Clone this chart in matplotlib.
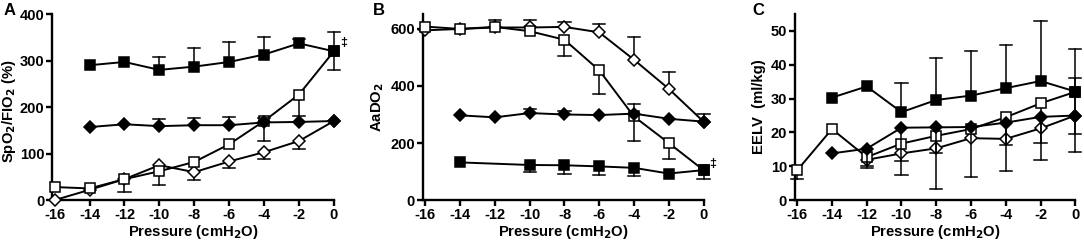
import numpy as np
import matplotlib
matplotlib.use("Agg")
import matplotlib.pyplot as plt

plt.rcParams.update({
    "font.family": ["Liberation Sans", "DejaVu Sans"],
    "font.weight": "bold",
    "axes.labelweight": "bold",
    "axes.unicode_minus": False,
    "axes.linewidth": 1.7,
    "xtick.major.width": 1.7,
    "ytick.major.width": 1.7,
    "xtick.major.size": 4,
    "ytick.major.size": 4,
    "xtick.labelsize": 10.5,
    "ytick.labelsize": 10.5,
    "mathtext.default": "bf",
})

NAN = np.nan
pressure = np.array([-16, -14, -12, -10, -8, -6, -4, -2, 0])

# Panel A: SpO2/FiO2
a_fsq = [NAN, 290, 297, 280, 287, 297, 313, 337, 320]
a_fsq_up = [NAN, NAN, NAN, 307, 327, 340, 350, 347, 362]
a_fsq_dn = [NAN, NAN, NAN, NAN, NAN, NAN, NAN, NAN, 280]
a_fdi = [NAN, 157, 163, 159, 161, 161, 167, 168, 170]
a_fdi_up = [NAN, NAN, NAN, 175, 176, 178, 176, NAN, NAN]
a_fdi_dn = [NAN] * 9
a_osq = [28, 25, 45, 62, 82, 120, 170, 227, 320]
a_osq_up = [NAN] * 9
a_osq_dn = [NAN, NAN, 18, 33, NAN, NAN, 127, 180, NAN]
a_odi = [0, 22, 45, 75, 60, 83, 103, 127, 170]
a_odi_up = [NAN] * 9
a_odi_dn = [NAN, NAN, NAN, NAN, 43, 70, 88, 110, NAN]

# Panel B: AaDO2
b_fsq = [NAN, 132, NAN, 123, 122, 118, 113, 93, 105]
b_fsq_up = [NAN] * 9
b_fsq_dn = [NAN, NAN, NAN, 100, 90, 88, 85, NAN, 75]
b_fdi = [NAN, 297, 290, 305, 300, 298, 303, 285, 275]
b_fdi_up = [NAN, NAN, NAN, 320, 313, NAN, 337, NAN, NAN]
b_fdi_dn = [NAN] * 9
b_osq = [608, 600, 607, 592, 562, 455, 293, 200, 105]
b_osq_up = [NAN, NAN, 632, NAN, NAN, NAN, NAN, NAN, NAN]
b_osq_dn = [NAN, NAN, NAN, NAN, 505, 373, 208, 143, NAN]
b_odi = [595, 600, 605, 605, 607, 588, 492, 390, 275]
b_odi_up = [NAN, NAN, NAN, 632, 625, 618, 570, 450, 303]
b_odi_dn = [NAN] * 9

# Panel C: EELV
c_fsq = [NAN, 30.3, 33.6, 26.0, 29.6, 30.9, 33.1, 35.2, 32.1]
c_fsq_up = [NAN, NAN, NAN, 34.5, 42.0, 44.0, 45.8, 53.0, 44.8]
c_fsq_dn = [NAN] * 9
c_fdi = [NAN, 13.8, 15.2, 21.4, 21.5, 21.6, 22.9, 24.6, 25.0]
c_fdi_up = [NAN, NAN, NAN, NAN, NAN, NAN, NAN, NAN, 36.0]
c_fdi_dn = [NAN, NAN, 9.5, 11.5, 13.9, NAN, 16.2, 17.0, 19.4]
c_osq = [8.8, 21.0, 12.7, 16.7, 19.0, 21.0, 24.5, 28.6, 32.0]
c_osq_up = [NAN] * 9
c_osq_dn = [6.3, NAN, 10.0, NAN, 3.2, 6.7, 8.7, 11.8, 14.2]
c_odi = [NAN, NAN, 11.9, 13.8, 15.3, 18.3, 18.1, 21.2, 25.0]
c_odi_up = [NAN] * 9
c_odi_dn = [NAN, NAN, NAN, 7.3, NAN, NAN, NAN, NAN, NAN]

STYLES = {
    "fsq": dict(marker="s", mfc="black", z=6),
    "fdi": dict(marker="D", mfc="black", z=5),
    "osq": dict(marker="s", mfc="white", z=4),
    "odi": dict(marker="D", mfc="white", z=3),
}


def draw_series(ax, y, up, dn, kind):
    st = STYLES[kind]
    y = np.array(y, float)
    up = np.array(up, float)
    dn = np.array(dn, float)
    ok = ~np.isnan(y)
    ms = 6.5 if st["marker"] == "s" else 5.7
    # error bars (one-sided, as drawn in the figure)
    for x, yy, u, d in zip(pressure, y, up, dn):
        for end in (u, d):
            if not np.isnan(end):
                ax.plot([x, x], [yy, end], color="black", lw=1.1,
                        zorder=st["z"] - 0.5, clip_on=False)
                ax.plot([x - 0.35, x + 0.35], [end, end], color="black",
                        lw=1.1, zorder=st["z"] - 0.5, clip_on=False)
    ax.plot(pressure[ok], y[ok], color="black", lw=1.4, marker=st["marker"],
            ms=ms, mfc=st["mfc"], mec="black", mew=1.1, zorder=st["z"],
            clip_on=False)


def style_axes(ax, ylim, yticks, ylabel):
    ax.set_xlim(-16.15, 0)
    ax.set_ylim(*ylim)
    ax.set_xticks(pressure)
    ax.set_yticks(yticks)
    ax.spines["top"].set_visible(False)
    ax.spines["right"].set_visible(False)
    ax.set_xlabel("Pressure (cmH$_2$O)", fontsize=10.7, labelpad=1)
    ax.set_ylabel(ylabel, fontsize=10.7, labelpad=3)
    ax.tick_params(pad=1.5)


fig = plt.figure(figsize=(10.84, 2.47), dpi=100)
axA = fig.add_axes([0.048, 0.19, 0.260, 0.753])
axB = fig.add_axes([0.390, 0.19, 0.259, 0.753])
axC = fig.add_axes([0.733, 0.19, 0.259, 0.753])

for y, u, d, k in [(a_fdi, a_fdi_up, a_fdi_dn, "fdi"), (a_odi, a_odi_up, a_odi_dn, "odi"),
                   (a_osq, a_osq_up, a_osq_dn, "osq"), (a_fsq, a_fsq_up, a_fsq_dn, "fsq")]:
    draw_series(axA, y, u, d, k)
style_axes(axA, (0, 400), [0, 100, 200, 300, 400], "SpO$_2$/FIO$_2$ (%)")
axA.yaxis.set_label_coords(-0.12, 0.48)
axA.text(0.35, 338, "\u2021", fontsize=9, ha="left", va="center")

for y, u, d, k in [(b_fdi, b_fdi_up, b_fdi_dn, "fdi"), (b_fsq, b_fsq_up, b_fsq_dn, "fsq"),
                   (b_osq, b_osq_up, b_osq_dn, "osq"), (b_odi, b_odi_up, b_odi_dn, "odi")]:
    draw_series(axB, y, u, d, k)
style_axes(axB, (0, 652), [0, 200, 400, 600], "AaDO$_2$")
axB.text(0.35, 128, "\u2021", fontsize=9, ha="left", va="center")

for y, u, d, k in [(c_fsq, c_fsq_up, c_fsq_dn, "fsq"), (c_fdi, c_fdi_up, c_fdi_dn, "fdi"),
                   (c_odi, c_odi_up, c_odi_dn, "odi"), (c_osq, c_osq_up, c_osq_dn, "osq")]:
    draw_series(axC, y, u, d, k)
style_axes(axC, (0, 55), [0, 10, 20, 30, 40, 50], "EELV  (ml/kg)")

for letter, xp in [("A", 4), ("B", 373), ("C", 752)]:
    fig.text(xp / 1084, 1 - 10.5 / 247, letter, fontsize=12, fontweight="bold",
             ha="left", va="center")

fig.savefig("out.png", dpi=100)
